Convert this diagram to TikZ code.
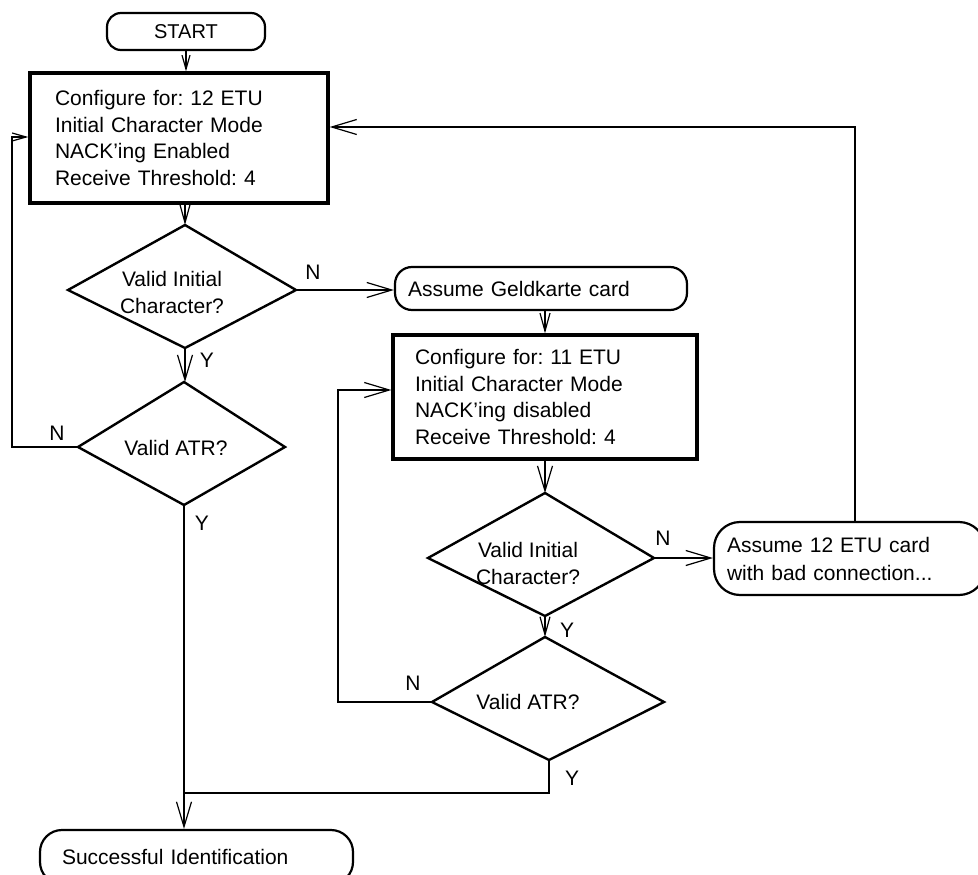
\documentclass[tikz,border=0pt]{standalone}
\usepackage{fontspec}
\setmainfont{Liberation Sans}
\usetikzlibrary{arrows.meta}
\frenchspacing
\begin{document}
\begin{tikzpicture}[x=1pt,y=-1pt,
  conn/.style={line width=2pt},
  arr/.style={conn,-{Straight Barb[length=25pt,width=15pt,line width=1.2pt]}},
  marr/.style={conn,-{Straight Barb[length=18pt,width=10pt,line width=1.2pt]}},
  sarr/.style={conn,-{Straight Barb[length=14pt,width=8pt,line width=1.2pt]}},
  procbox/.style={draw, line width=3.3pt, align=left, inner ysep=0pt,
    font=\fontsize{21}{26.5}\selectfont},
  term/.style={draw, line width=2.2pt, align=left, inner ysep=0pt,
    font=\fontsize{21}{28}\selectfont},
  dia/.style={line width=2.4pt, line join=miter},
  dtext/.style={align=center, inner sep=0pt, font=\fontsize{21}{27}\selectfont},
  lbl/.style={inner sep=0pt, font=\fontsize{21}{24}\selectfont}]
\useasboundingbox (0,0) rectangle (978,875);

% terminals and process boxes
\node[term, rounded corners=14pt, align=center, minimum width=158pt, minimum height=37pt,
  font=\fontsize{20}{22}\selectfont] (start) at (186,31.5) {START};
\node[procbox, minimum width=298pt, minimum height=130pt, text width=248pt, inner xsep=25pt]
  (b1) at (179,138) {Configure for: 12 ETU\\Initial Character Mode\\NACK'ing Enabled\\Receive Threshold: 4};
\node[term, rounded corners=17pt, minimum width=292pt, minimum height=43pt, text width=266pt, inner xsep=13pt]
  (geld) at (541,288.5) {Assume Geldkarte card};
\node[procbox, minimum width=304pt, minimum height=124pt, text width=260pt, inner xsep=22pt]
  (b2) at (545,397) {Configure for: 11 ETU\\Initial Character Mode\\NACK'ing disabled\\Receive Threshold: 4};
\node[term, rounded corners=26pt, minimum width=271pt, minimum height=73pt, text width=245pt, inner xsep=13pt]
  (a12) at (849.5,558.5) {Assume 12 ETU card\\with bad connection...};
\node[term, rounded corners=22pt, minimum width=313pt, minimum height=54pt, text width=269pt, inner xsep=22pt]
  (succ) at (196.5,857) {Successful Identification};

% decisions
\coordinate (d1t) at (185,225); \coordinate (d1r) at (296,290);
\coordinate (d1b) at (185,348); \coordinate (d1l) at (68,290);
\draw[dia] (d1t) -- (d1r) -- (d1b) -- (d1l) -- cycle;
\node[dtext] (d1) at (172,292) {Valid Initial\\Character?};

\coordinate (d2t) at (184,382); \coordinate (d2r) at (285,447);
\coordinate (d2b) at (184,505); \coordinate (d2l) at (78,447);
\draw[dia] (d2t) -- (d2r) -- (d2b) -- (d2l) -- cycle;
\node[dtext] (d2) at (176,448) {Valid ATR?};

\coordinate (d3t) at (545,493); \coordinate (d3r) at (654,558);
\coordinate (d3b) at (545,616); \coordinate (d3l) at (428,558);
\draw[dia] (d3t) -- (d3r) -- (d3b) -- (d3l) -- cycle;
\node[dtext] (d3) at (528,563) {Valid Initial\\Character?};

\coordinate (d4t) at (545,637); \coordinate (d4r) at (664,702);
\coordinate (d4b) at (549,760); \coordinate (d4l) at (432,702);
\draw[dia] (d4t) -- (d4r) -- (d4b) -- (d4l) -- cycle;
\node[dtext] (d4) at (528,702) {Valid ATR?};

% helper coordinates
\coordinate (lp1) at (12,137);
\coordinate (lp2) at (338,390);
\coordinate (rt) at (855,127);
\coordinate (jn) at (184,793);

% connectors
\draw[sarr] (start.south) -- (start.south |- b1.north);
\draw[marr] (d1t |- b1.south) -- (d1t);
\draw[arr] (d1r) -- (d1r -| geld.west);
\draw[arr] (d1b) -- (d1b |- d2t);
\draw[sarr] (d2l) -| (lp1) -- (lp1 -| b1.west);
\draw[arr] (d2b) -- (d2b |- succ.north);
\draw[marr] (d3t |- geld.south) -- (d3t |- b2.north);
\draw[arr] (d3t |- b2.south) -- (d3t);
\draw[arr] (d3r) -- (d3r -| a12.west);
\draw[arr] (rt |- a12.north) -- (rt) -- (rt -| b1.east);
\draw[marr] (d3b) -- (d3b |- d4t);
\draw[arr] (d4l) -| (lp2) -- (lp2 -| b2.west);
\draw[conn] (d4b) -- (d4b |- jn) -- (jn);

% labels
\node[lbl] (n1) at (313,272) {N};
\node[lbl] (y1) at (207,360) {Y};
\node[lbl] (n2) at (57,433) {N};
\node[lbl] (y2) at (202,523) {Y};
\node[lbl] (n3) at (663,538) {N};
\node[lbl] (y3) at (567,630) {Y};
\node[lbl] (n4) at (413,683) {N};
\node[lbl] (y4) at (572,778) {Y};
\end{tikzpicture}
\end{document}
